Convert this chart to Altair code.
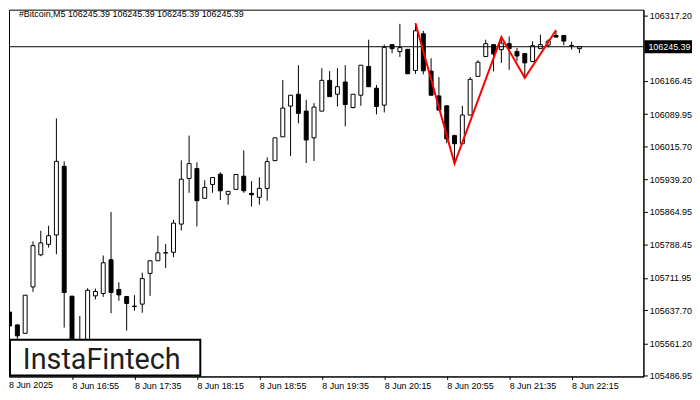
import altair as alt
import pandas as pd

symbol = "#Bitcoin,M5"
last_price = 106245.39

opens = [105633.3, 105603.6, 105584.2, 105691.2, 105765.3, 105789.5, 105811.0, 105969.5, 105669.9, 105512.1,
         105544.1, 105670.6, 105676.1, 105753.9, 105685.2, 105669.2, 105646.0, 105651.6, 105722.5, 105751.6,
         105769.5, 105771.2, 105836.2, 105941.4, 105964.3, 105895.7, 105927.7, 105951.2, 105904.8, 105916.3,
         105946.7, 105907.1, 105898.0, 105918.5, 105982.6, 106037.5, 106108.4, 106135.8, 106096.9, 106035.2,
         106096.9, 106167.8, 106135.8, 106164.0, 106105.2, 106133.5, 106199.9, 106149.6, 106110.7, 106250.2,
         106234.2, 106239.4, 106190.7, 106275.3, 106189.1, 106131.9, 106109.1, 106040.4, 106021.5, 106087.8,
         106177.0, 106222.7, 106250.2, 106238.7, 106252.5, 106234.2, 106229.6, 106211.3, 106241.0, 106249.3,
         106271.5, 106271.5, 106248.5, 106241.0]
highs = [105636.0, 105605.0, 105672.2, 105796.4, 105820.9, 105832.3, 106080.0, 105981.0, 105670.5, 105624.2,
         105688.2, 105687.5, 105763.7, 105864.3, 105701.9, 105670.0, 105672.2, 105724.1, 105751.6, 105809.4,
         105790.5, 105846.0, 105983.3, 106040.4, 105978.7, 105937.5, 105943.7, 105955.8, 105911.7, 105950.6,
         106006.1, 105935.2, 105944.4, 105990.1, 106035.2, 106168.5, 106133.5, 106202.8, 106122.8, 106115.2,
         106196.0, 106189.1, 106196.0, 106202.8, 106135.8, 106202.8, 106261.6, 106157.1, 106250.2, 106250.2,
         106298.2, 106239.4, 106299.6, 106282.2, 106218.9, 106175.4, 106109.1, 106042.7, 106109.1, 106175.4,
         106214.3, 106261.6, 106250.2, 106267.6, 106269.2, 106242.4, 106229.6, 106257.7, 106273.1, 106262.3,
         106282.9, 106271.5, 106257.0, 106245.39]
lows = [105598.0, 105569.3, 105584.2, 105679.8, 105762.1, 105782.0, 105766.7, 105597.4, 105498.4, 105503.0,
        105537.3, 105662.4, 105668.3, 105630.4, 105659.2, 105590.6, 105636.3, 105631.7, 105670.6, 105751.6,
        105734.7, 105759.8, 105821.6, 105908.5, 105830.7, 105895.7, 105908.5, 105891.8, 105881.0, 105916.3,
        105908.5, 105876.5, 105881.0, 105890.2, 105982.6, 106037.5, 105993.1, 106068.6, 105977.1, 105981.7,
        106096.9, 106130.3, 106107.5, 106061.7, 106102.9, 106109.1, 106153.2, 106089.2, 106093.7, 106230.3,
        106221.8, 106182.9, 106182.9, 106181.6, 106133.5, 106099.2, 106022.8, 105975.7, 106021.5, 106087.8,
        106177.0, 106222.7, 106188.4, 106208.1, 106192.1, 106212.0, 106173.8, 106211.3, 106241.0, 106244.0,
        106267.6, 106248.6, 106238.7, 106231.0]
closes = [105601.3, 105578.4, 105672.2, 105786.6, 105792.8, 105809.4, 105981.0, 105678.4, 105521.3, 105544.1,
          105683.6, 105680.7, 105747.0, 105678.4, 105672.9, 105653.2, 105647.0, 105710.4, 105751.6, 105769.9,
          105770.3, 105838.5, 105939.8, 105975.7, 105890.2, 105920.8, 105943.7, 105913.1, 105911.7, 105950.6,
          105913.1, 105903.9, 105918.5, 105980.3, 106035.2, 106103.8, 106133.5, 106091.5, 106030.2, 106106.1,
          106167.8, 106130.3, 106153.2, 106112.0, 106135.8, 106202.8, 106153.2, 106107.5, 106244.0, 106241.0,
          106243.3, 106182.9, 106282.2, 106189.8, 106133.5, 106099.2, 106032.9, 106021.5, 106087.8, 106170.1,
          106209.7, 106252.5, 106228.7, 106253.8, 106241.0, 106224.1, 106208.1, 106247.9, 106250.2, 106258.4,
          106267.6, 106258.4, 106247.5, 106245.39]

first_time_label = "8 Jun 2025"
time_tick_bars = [8, 16, 24, 32, 40, 48, 56, 64, 72]
time_tick_labels = ["8 Jun 16:55", "8 Jun 17:35", "8 Jun 18:15", "8 Jun 18:55", "8 Jun 19:35",
                    "8 Jun 20:15", "8 Jun 20:55", "8 Jun 21:35", "8 Jun 22:15"]
price_ticks = [106317.20, 106166.45, 106089.95, 106015.70, 105939.20, 105864.95,
               105788.45, 105711.95, 105637.70, 105561.20, 105486.95]

pattern_bars = [52, 57, 63, 66, 70]
pattern_prices = [106299.6, 105975.7, 106267.6, 106173.8, 106283.6]

logo_text = "InstaFintech"

FONT = "Liberation Sans"

df = pd.DataFrame({"bar": list(range(len(opens))), "open": opens, "high": highs,
                   "low": lows, "close": closes})
pattern_df = pd.DataFrame({"bar": pattern_bars, "price": pattern_prices})
last_df = pd.DataFrame({"p": [last_price], "label": [f"{last_price:.2f}"]})
one_df = pd.DataFrame({"a": [0]})

x_scale = alt.Scale(domain=[0.5625, 80.5625], nice=False, zero=False)
y_scale = alt.Scale(domain=[105484.7, 106330.9], nice=False, zero=False)

label_expr = "[" + ",".join(f"'{s}'" for s in time_tick_labels) + "][datum.value / 8 - 1]"

x_axis = alt.Axis(values=time_tick_bars, labelExpr=label_expr, orient="bottom", title=None,
                  grid=False, tickSize=3, labelAlign="left", labelBaseline="top", labelPadding=2,
                  labelFlush=False, labelOverlap=False, labelBound=False)
y_axis = alt.Axis(values=price_ticks, format=".2f", orient="right", title=None, grid=False,
                  tickSize=4, labelPadding=2, labelOverlap=False, labelFlush=False,
                  labelSeparation=0)


def X(field):
    return alt.X(field, scale=x_scale, axis=x_axis)


def Y(field):
    return alt.Y(field, scale=y_scale, axis=y_axis)


wicks = alt.Chart(df).mark_rule(color="black", strokeWidth=1, clip=True).encode(
    x=X("bar:Q"), y=Y("low:Q"), y2="high:Q",
)

bodies = alt.Chart(df).mark_bar(size=4, stroke="black", strokeWidth=1, clip=True).encode(
    x=X("bar:Q"), y=Y("open:Q"), y2="close:Q",
    fill=alt.condition("datum.close >= datum.open", alt.value("white"), alt.value("black")),
)

price_line = alt.Chart(last_df).mark_rule(color="black", strokeWidth=1).encode(y=Y("p:Q"))

pattern = alt.Chart(pattern_df).mark_line(color="#ff0000", strokeWidth=2, clip=True).encode(
    x=X("bar:Q"), y=Y("price:Q"),
)

title_text = " ".join([symbol, ""] + [f"{last_price:.2f}"] * 4)
title_mark = alt.Chart(one_df).mark_text(
    text=title_text, align="left", baseline="middle", font=FONT, fontSize=9, color="black"
).encode(x=alt.value(10), y=alt.value(4))

first_label = alt.Chart(one_df).mark_text(
    text=first_time_label, align="left", baseline="top", font=FONT, fontSize=9, color="black"
).encode(x=alt.value(0), y=alt.value(375))

logo_box = alt.Chart(one_df).mark_rect(fill="white", stroke="black", strokeWidth=2).encode(
    x=alt.value(1), x2=alt.value(193), y=alt.value(333), y2=alt.value(369)
)
logo = alt.Chart(one_df).mark_text(
    text=logo_text, align="left", baseline="alphabetic", font="Roboto", fontSize=29, color="#1e1e1e"
).encode(x=alt.value(14), y=alt.value(362))

price_box = alt.Chart(last_df).mark_point(
    shape="M-1,-0.271H1V0.271H-1Z", size=2304, filled=True, color="black", opacity=1, strokeWidth=0
).encode(x=alt.value(665), y=Y("p:Q"))

price_label = alt.Chart(last_df).mark_text(
    align="left", baseline="middle", font=FONT, fontSize=9, color="white"
).encode(x=alt.value(645), y=Y("p:Q"), text="label:N")

chart = alt.layer(
    wicks, bodies, price_line, pattern, title_mark, first_label, logo_box, logo, price_box, price_label
).properties(width=640, height=370, padding=0, background="white").configure_view(
    stroke="black", strokeWidth=1
).configure_axis(
    labelFont=FONT, labelFontSize=9, labelColor="black", domainColor="black",
    tickColor="black", domainWidth=1, tickWidth=1, labelOverlap=False
)

chart.save("out.html", embed_options={"renderer": "svg", "actions": False})
